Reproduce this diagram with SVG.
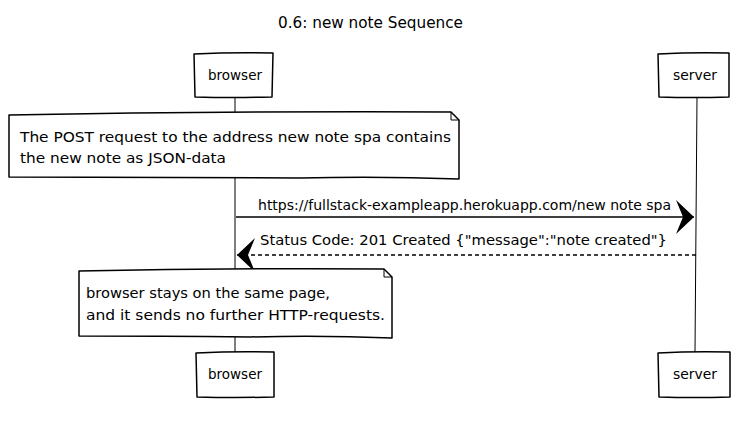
<svg xmlns="http://www.w3.org/2000/svg" width="743" height="421" viewBox="0 0 743 421">
  <defs>
    <style>
      .box { fill: #ffffff; stroke: #000000; stroke-width: 1.5; stroke-linejoin: round; }
      .note { fill: #ffffff; stroke: #000000; stroke-width: 1.5; stroke-linejoin: round; }
      .fold { fill: none; stroke: #000000; stroke-width: 1; }
      .life { fill: none; stroke: #000000; stroke-width: 1; }
      .msg { fill: none; stroke: #000000; stroke-width: 1.5; }
      .dash { stroke-dasharray: 4 3; }
      .t { font-family: "DejaVu Sans", "Liberation Sans", sans-serif; font-size: 14px; fill: #000000; }
      .title { font-family: "DejaVu Sans", "Liberation Sans", sans-serif; font-size: 15px; fill: #000000; }
    </style>
    <marker id="head" markerUnits="userSpaceOnUse" viewBox="0 0 18 34" refX="18" refY="17" markerWidth="18" markerHeight="34" orient="auto">
      <path d="M0,0 L18,17 L0,34 L7,17 Z" fill="#000000"/>
    </marker>
  </defs>
  <rect width="743" height="421" fill="#ffffff"/>

  <text id="title" class="title" x="278" y="28" textLength="185" lengthAdjust="spacingAndGlyphs">0.6: new note Sequence</text>

  <g id="connectors">
    <path class="life" d="M235,97 L235,352"/>
    <path class="life" d="M697,97 L695,352"/>
    <path id="msg-1" class="msg" d="M236,217 L694,217" marker-end="url(#head)"/>
    <text class="t" x="258" y="210" textLength="413" lengthAdjust="spacingAndGlyphs">https://fullstack-exampleapp.herokuapp.com/new note spa</text>
    <path id="msg-2" class="msg dash" d="M696,255 L237,255" marker-end="url(#head)"/>
    <text class="t" x="260" y="245" textLength="407" lengthAdjust="spacingAndGlyphs">Status Code: 201 Created {"message":"note created"}</text>
  </g>

  <g id="browser-top">
    <path class="box" d="M194,54 Q233,52 273,53 L272,97 Q234,98 195,97 Z"/>
    <text class="t" x="208" y="80" textLength="54" lengthAdjust="spacingAndGlyphs">browser</text>
  </g>

  <g id="server-top">
    <path class="box" d="M658,54 Q694,52 729,53 L729,97 Q693,98 659,97 Z"/>
    <text class="t" x="673" y="80" textLength="44" lengthAdjust="spacingAndGlyphs">server</text>
  </g>

  <g id="note-1">
    <path class="note" d="M9,115 Q230,111 451,112 L459,120 L459,179 Q380,176 300,178 Q150,177 9,177 Z"/>
    <path class="fold" d="M451,112 L451,120 L459,120"/>
    <text class="t" x="20" y="142" textLength="431" lengthAdjust="spacingAndGlyphs">The POST request to the address new note spa contains</text>
    <text class="t" x="20" y="163" textLength="206" lengthAdjust="spacingAndGlyphs">the new note as JSON-data</text>
  </g>

  <g id="note-2">
    <path class="note" d="M79,271 Q230,268 384,269 L392,277 L392,338 Q320,335 250,337 Q160,336 79,336 Z"/>
    <path class="fold" d="M384,269 L384,277 L392,277"/>
    <text class="t" x="86" y="298" textLength="244" lengthAdjust="spacingAndGlyphs">browser stays on the same page,</text>
    <text class="t" x="86" y="320" textLength="299" lengthAdjust="spacingAndGlyphs">and it sends no further HTTP-requests.</text>
  </g>

  <g id="browser-bottom">
    <path class="box" d="M196,353 Q235,351 274,352 L274,397 Q235,398 197,397 Z"/>
    <text class="t" x="208" y="379" textLength="54" lengthAdjust="spacingAndGlyphs">browser</text>
  </g>

  <g id="server-bottom">
    <path class="box" d="M658,353 Q694,351 730,352 L730,397 Q694,398 659,397 Z"/>
    <text class="t" x="673" y="379" textLength="44" lengthAdjust="spacingAndGlyphs">server</text>
  </g>
</svg>
